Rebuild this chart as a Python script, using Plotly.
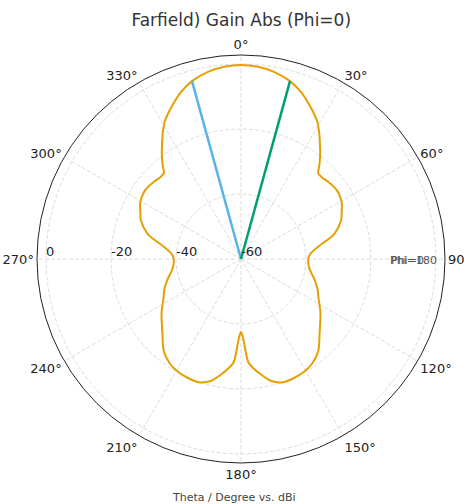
import plotly.graph_objects as go

# Farfield gain cut, Phi=0 plane (theta in degrees, gain in dBi)
theta_deg = [0, 5, 10, 15.4, 20, 23, 26, 29, 32, 34, 37, 40, 42, 45, 48, 52, 55, 58, 61, 65,
             69, 75, 81, 85, 88, 92, 97, 101, 105, 111, 117, 124, 133, 140, 146, 151, 156,
             161, 166, 170, 174, 176, 178.5, 180,
             181.5, 184, 186, 190, 194, 199, 204, 209, 214, 220, 227, 236, 243, 249, 255,
             259, 263, 268, 272, 275, 279, 285, 291, 295, 299, 302, 305, 308, 312, 315,
             318, 320, 323, 326, 328, 331, 334, 337, 340, 344.6, 350, 355, 360]
gain_dbi = [-0.3, -0.6, -1.5, -3.2, -5.5, -7.5, -9.5, -11.6, -14.5, -16.6, -19.5, -22.5, -24.5,
            -24.6, -24.2, -23.8, -23.7, -24.0, -24.5, -25.8, -27.0, -30.3, -36.0, -38.3, -39.1,
            -39.3, -38.9, -38.0, -36.7, -34.8, -33.2, -30.5, -26.9, -23.0, -21.0, -20.2, -19.9,
            -19.9, -21.3, -23.8, -26.5, -28.2, -35.7, -37.5,
            -35.7, -28.2, -26.5, -23.8, -21.3, -19.9, -19.9, -20.2, -21.0, -23.0, -26.9, -30.5,
            -33.2, -34.8, -36.7, -38.0, -38.9, -39.3, -39.1, -38.3, -36.0, -30.3, -27.0,
            -25.8, -24.5, -24.0, -23.7, -23.8, -24.2, -24.6, -24.5, -22.5, -19.5, -16.6,
            -14.5, -11.6, -9.5, -7.5, -5.5, -3.2, -1.5, -0.6, -0.3]

# -3 dB beamwidth markers
beam_left_theta = [344.6, 344.6]
beam_right_theta = [15.4, 15.4]
beam_r = [-60, -3.2]

radial_ticks = [-60, -40, -20, 0]
radial_label_theta = 270
angular_ticks = [0, 30, 60, 90, 120, 150, 180, 210, 240, 270, 300, 330]

fig = go.Figure()
fig.add_trace(go.Scatterpolar(
    r=gain_dbi, theta=theta_deg, mode="lines",
    line=dict(color="#E69F00", width=2, shape="spline", smoothing=0.8),
    showlegend=False, hoverinfo="skip"))
fig.add_trace(go.Scatterpolar(
    r=beam_r, theta=beam_left_theta, mode="lines",
    line=dict(color="#56B4E9", width=2.5), showlegend=False))
fig.add_trace(go.Scatterpolar(
    r=beam_r, theta=beam_right_theta, mode="lines",
    line=dict(color="#009E73", width=2.5), showlegend=False))
# radial tick labels, written along the 270° spoke
fig.add_trace(go.Scatterpolar(
    r=radial_ticks, theta=[radial_label_theta] * len(radial_ticks), mode="text",
    text=[str(v) for v in radial_ticks], textposition="top right",
    textfont=dict(size=13, color="#222222", family="DejaVu Sans"),
    showlegend=False, hoverinfo="skip", cliponaxis=False))

fig.update_layout(
    width=464, height=504,
    margin=dict(l=0, r=0, t=0, b=0),
    paper_bgcolor="white",
    font=dict(family="DejaVu Sans", color="#222222"),
    title=dict(text="Farfield) Gain Abs (Phi=0)", x=0.52, xanchor="center",
               y=0.96, yanchor="middle",
               font=dict(size=17, color="#333333")),
    polar=dict(
        domain=dict(x=[37 / 464, 445 / 464], y=[41 / 504, 449 / 504]),
        bgcolor="white",
        angularaxis=dict(
            rotation=90, direction="clockwise",
            tickmode="array", tickvals=angular_ticks,
            ticktext=[f"{a}°" for a in angular_ticks],
            tickfont=dict(size=13, color="#222222"),
            ticks="", showline=True, linecolor="#222222", linewidth=1,
            showgrid=True, gridcolor="#dcdcdc", griddash="4px,2px", gridwidth=1),
        radialaxis=dict(
            range=[-60, 2.8], angle=180,
            tickmode="array", tickvals=radial_ticks, showticklabels=False,
            ticks="", showline=False,
            showgrid=True, gridcolor="#dcdcdc", griddash="4px,2px", gridwidth=1),
    ),
    annotations=[
        dict(text="Phi=180", x=388 / 464, y=1 - 260 / 504, xref="paper", yref="paper",
             xanchor="left", yanchor="middle", showarrow=False,
             font=dict(size=11, color="#555555")),
        dict(text="Phi=0", x=389 / 464, y=1 - 260 / 504, xref="paper", yref="paper",
             xanchor="left", yanchor="middle", showarrow=False,
             font=dict(size=11, color="#555555")),
        dict(text="Theta / Degree vs. dBi", x=234 / 464, y=1 - 497 / 504,
             xref="paper", yref="paper", xanchor="center", yanchor="middle",
             showarrow=False, font=dict(size=11, color="#444444")),
    ],
)

fig.write_html("out.html")
